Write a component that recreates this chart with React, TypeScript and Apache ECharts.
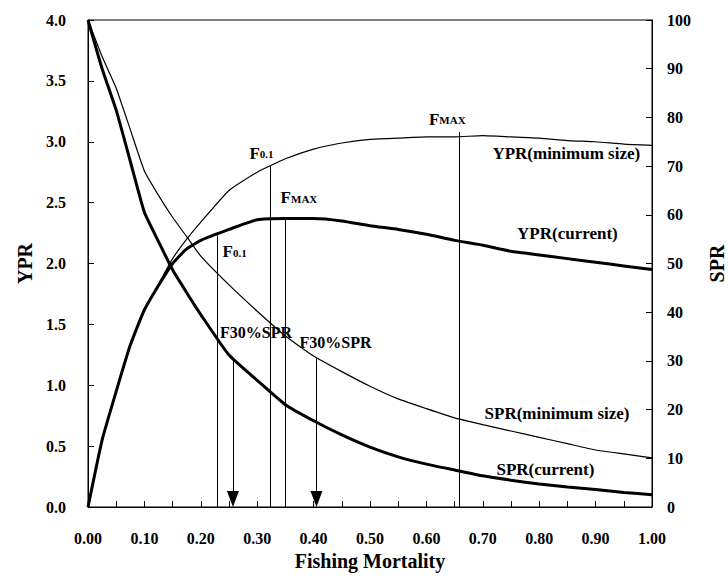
import React, { useEffect, useRef } from 'react';
import * as echarts from 'echarts';

// Fishing mortality grid
const F = [0, 0.025, 0.05, 0.075, 0.1, 0.125, 0.15, 0.175, 0.2, 0.25, 0.3, 0.35, 0.4, 0.45, 0.5, 0.55, 0.6, 0.65, 0.7, 0.75, 0.8, 0.85, 0.9, 0.95, 1.0];
// Yield per recruit
const yprCurrent = [0, 0.55, 0.95, 1.33, 1.62, 1.82, 2.0, 2.12, 2.19, 2.28, 2.36, 2.37, 2.37, 2.35, 2.31, 2.28, 2.24, 2.19, 2.15, 2.1, 2.07, 2.04, 2.01, 1.98, 1.95];
const yprMinSize = [0, 0.55, 0.95, 1.33, 1.62, 1.83, 2.04, 2.2, 2.34, 2.6, 2.75, 2.86, 2.94, 2.99, 3.02, 3.03, 3.04, 3.04, 3.05, 3.04, 3.03, 3.01, 3.0, 2.98, 2.97];
// Spawning potential ratio (%)
const sprCurrent = [100, 90, 81.5, 71, 60.5, 54.5, 48.7, 44, 39.5, 31.2, 26, 21, 17.7, 14.8, 12.3, 10.3, 8.8, 7.6, 6.4, 5.5, 4.7, 4.1, 3.6, 3.0, 2.5];
const sprMinSize = [100, 92.5, 86, 77.5, 69, 64, 59.5, 55.5, 51.5, 45.6, 40.2, 35.1, 31, 27.8, 24.8, 22.2, 20.2, 18.3, 16.9, 15.6, 14.3, 13.0, 11.7, 10.9, 10.1];

// Biological reference points (F, top of line on YPR axis)
const refF = [0.229, 0.323, 0.349, 0.658];
const refTop = [2.23, 2.8, 2.37, 3.08];
// F30%SPR arrows (F, SPR at start)
const arrowF = [0.257, 0.405];
const arrowTop = [30.5, 30.5];

// Annotation texts and where they sit (data coords on YPR axis)
const noteText = ['{f|F}{s|0.1}', '{f|F}{s|0.1}', '{f|F}{s|MAX}', '{f|F}{s|MAX}', '{r|F30%SPR}', '{r|F30%SPR}', 'YPR(minimum size)', 'YPR(current)', 'SPR(minimum size)', 'SPR(current)'];
const noteF = [0.26, 0.3076, 0.374, 0.637, 0.298, 0.439, 0.848, 0.85, 0.8316, 0.811];
const noteY = [2.1, 2.91, 2.546, 3.187, 1.43, 1.355, 2.9, 2.25, 0.772, 0.312];

const FONT = "'Liberation Serif','Times New Roman',serif";

export default function App() {
  const ref = useRef<HTMLDivElement>(null);
  useEffect(() => {
    const chart = echarts.init(ref.current!, null, { renderer: 'svg' });
    const pair = (ys: number[]) => F.map((f, i) => [f, ys[i]]);
    const gridH = 487;
    const arrowH = 16;
    const arrowEnd = (arrowH / 2) / (gridH / 100);
    const baseText = { fontFamily: FONT, fontWeight: 'bold' as const, color: '#000' };
    const curve = (name: string, axis: number, ys: number[], width: number) => ({
      name, type: 'line', yAxisIndex: axis, data: pair(ys), showSymbol: false, smooth: 0.15,
      lineStyle: { color: '#000', width }, itemStyle: { color: '#000' },
    });
    const option: any = {
      animation: false,
      backgroundColor: '#fff',
      grid: {
        left: 88, top: 20, width: 564, height: gridH, containLabel: false, outerBoundsMode: 'none',
        show: true, borderColor: '#000', borderWidth: 1, backgroundColor: 'transparent',
      },
      xAxis: {
        type: 'value', min: 0, max: 1, interval: 0.1,
        name: 'Fishing Mortality', nameLocation: 'middle', nameGap: 42,
        nameTextStyle: { ...baseText, fontSize: 20 },
        axisLine: { show: true, lineStyle: { color: '#000', width: 1 } },
        axisTick: { show: true, inside: true, length: 6, lineStyle: { color: '#000' } },
        minorTick: { show: true, splitNumber: 2, length: 6, lineStyle: { color: '#000' } },
        splitLine: { show: false },
        axisLabel: { ...baseText, fontSize: 16, margin: 23, formatter: (v: number) => v.toFixed(2), showMinLabel: true, showMaxLabel: true },
      },
      yAxis: [
        {
          type: 'value', min: 0, max: 4, interval: 0.5, position: 'left',
          name: 'YPR', nameLocation: 'middle', nameGap: 52, nameRotate: 90,
          nameTextStyle: { ...baseText, fontSize: 20 },
          axisLine: { show: true, lineStyle: { color: '#000', width: 1 } },
          axisTick: { show: true, inside: true, length: 6, lineStyle: { color: '#000' } },
          splitLine: { show: false },
          axisLabel: { ...baseText, fontSize: 16, margin: 22, formatter: (v: number) => v.toFixed(1) },
        },
        {
          type: 'value', min: 0, max: 100, interval: 10, position: 'right',
          name: 'SPR', nameLocation: 'middle', nameGap: 55, nameRotate: 90,
          nameTextStyle: { ...baseText, fontSize: 20 },
          axisLine: { show: true, lineStyle: { color: '#000', width: 1 } },
          axisTick: { show: true, inside: true, length: 6, lineStyle: { color: '#000' } },
          splitLine: { show: false },
          axisLabel: { ...baseText, fontSize: 16, margin: 15 },
        },
      ],
      series: [
        {
          ...curve('YPR(current)', 0, yprCurrent, 3),
          markLine: {
            silent: true, symbol: ['none', 'none'], label: { show: false },
            lineStyle: { color: '#000', width: 1, type: 'solid' },
            data: refF.map((f, i) => [{ coord: [f, 0] }, { coord: [f, refTop[i]] }]),
          },
          markPoint: {
            silent: true, symbol: 'rect', symbolSize: 1, itemStyle: { color: 'rgba(0,0,0,0)' },
            label: {
              show: true, position: 'inside', ...baseText, fontSize: 17,
              rich: {
                f: { ...baseText, fontSize: 17, verticalAlign: 'bottom', lineHeight: 18 },
                s: { ...baseText, fontSize: 11, verticalAlign: 'bottom', lineHeight: 14, padding: [0, 0, 2, 0] },
                r: { ...baseText, fontSize: 16 },
              },
            },
            data: noteText.map((t, i) => ({ coord: [noteF[i], noteY[i]], value: 0, label: { formatter: t } })),
          },
        },
        curve('YPR(minimum size)', 0, yprMinSize, 1.2),
        {
          ...curve('SPR(current)', 1, sprCurrent, 3),
          markLine: {
            silent: true, symbol: ['none', 'triangle'], symbolSize: [12, arrowH], label: { show: false },
            lineStyle: { color: '#000', width: 1, type: 'solid' }, itemStyle: { color: '#000' },
            data: arrowF.map((f, i) => [{ coord: [f, arrowTop[i]] }, { coord: [f, arrowEnd] }]),
          },
        },
        curve('SPR(minimum size)', 1, sprMinSize, 1.2),
      ],
    };
    chart.setOption(option);
    return () => chart.dispose();
  }, []);
  return <div ref={ref} style={{ position: 'fixed', left: 0, top: 0, width: 728, height: 586, background: '#fff' }} />;
}
